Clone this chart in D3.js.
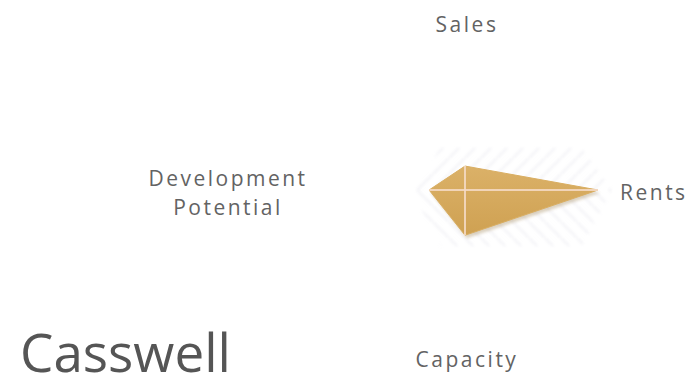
<!DOCTYPE html>
<html>
<head>
<meta charset="utf-8">
<script src="https://cdn.jsdelivr.net/npm/d3@7"></script>
<style>
  body { margin: 0; background: #fff; }
  svg { display: block; }
</style>
</head>
<body>
<div id="chart"></div>
<script>
// radar axes, clockwise from the top
const axes = ["Sales", "Rents", "Capacity", "Development Potential"];
const values = [0.9, 5.0, 1.7, 1.35];
const title = "Casswell";

const CONFIG = {
    width: 691,
    height: 387,
    cx: 465,
    cy: 190,
    radius: 133,
    max: 5,
    text_color: '#636363'
};

const svg = d3.select('#chart').append('svg')
    .attr('width', CONFIG.width)
    .attr('height', CONFIG.height);

const rScale = d3.scaleLinear().domain([0, CONFIG.max]).range([0, CONFIG.radius]);
const angle = d3.scaleLinear().domain([0, axes.length]).range([0, 2 * Math.PI]);

const defs = svg.append('defs');
const grad = defs.append('linearGradient')
    .attr('id', 'gold').attr('x1', 0).attr('y1', 0).attr('x2', 0).attr('y2', 1);
grad.append('stop').attr('offset', '0%').attr('stop-color', '#dbb168');
grad.append('stop').attr('offset', '100%').attr('stop-color', '#cfa152');

const blur = defs.append('filter').attr('id', 'soft')
    .attr('x', '-10%').attr('y', '-20%').attr('width', '120%').attr('height', '150%');
blur.append('feGaussianBlur').attr('stdDeviation', 1.4);

// hatched halo behind the shape
const pat = defs.append('pattern').attr('id', 'hatch')
    .attr('patternUnits', 'userSpaceOnUse').attr('width', 16).attr('height', 16);
pat.append('path').attr('d', 'M0,16 L16,0').attr('stroke', '#dedee8').attr('stroke-width', 1.5);
const pat2 = defs.append('pattern').attr('id', 'hatch2')
    .attr('patternUnits', 'userSpaceOnUse').attr('width', 16).attr('height', 16);
pat2.append('path').attr('d', 'M0,0 L16,16').attr('stroke', '#dedee8').attr('stroke-width', 1.5);

const g = svg.append('g').attr('transform', `translate(${CONFIG.cx},${CONFIG.cy})`);

const point = (v, i) => {
    const a = angle(i);
    return [rScale(v) * Math.sin(a), -rScale(v) * Math.cos(a)];
};

const pts = values.map((v, i) => point(v, i));
const left = pts[3][0] - 18, right = pts[1][0] + 14;
g.append('path')
    .attr('d', d3.line()([[left, 0], [left + 30, -42], [right - 30, -42], [right, 0]]) + 'Z')
    .attr('fill', 'url(#hatch)').attr('opacity', 0.55).attr('filter', 'url(#soft)');
g.append('path')
    .attr('d', d3.line()([[left, 0], [right, 0], [right - 30, 56], [left + 30, 56]]) + 'Z')
    .attr('fill', 'url(#hatch2)').attr('opacity', 0.55).attr('filter', 'url(#soft)');

// shadow
g.append('path')
    .attr('d', d3.line()(pts) + 'Z')
    .attr('transform', 'translate(2,3)')
    .attr('fill', '#8a6a30').attr('opacity', 0.3).attr('filter', 'url(#soft)');

g.append('path')
    .attr('d', d3.line()(pts) + 'Z')
    .attr('fill', 'url(#gold)')
    .attr('stroke', '#d9ae62').attr('stroke-width', 1);

// axis spokes across the shape
g.selectAll('.spoke')
    .data([[pts[0], pts[2]], [pts[3], pts[1]]])
    .enter().append('line')
    .attr('class', 'spoke')
    .attr('x1', (d) => d[0][0]).attr('y1', (d) => d[0][1])
    .attr('x2', (d) => d[1][0]).attr('y2', (d) => d[1][1])
    .attr('stroke', '#f6dcc8').attr('stroke-width', 2).attr('opacity', 0.85);

// axis labels
const labelPos = [
    { x: 2, y: -158, anchor: 'middle' },
    { x: 155, y: 10, anchor: 'start' },
    { x: 2, y: 177, anchor: 'middle' },
    { x: -237, y: -4, anchor: 'middle' }
];
axes.forEach((name, i) => {
    const p = labelPos[i];
    const words = name === 'Development Potential' ? ['Development', 'Potential'] : [name];
    const t = g.append('text')
        .attr('x', p.x).attr('y', p.y)
        .attr('text-anchor', p.anchor)
        .attr('font-family', 'Open Sans, sans-serif')
        .attr('font-size', 21)
        .attr('letter-spacing', 2.5)
        .attr('fill', CONFIG.text_color);
    words.forEach((w, j) => {
        t.append('tspan')
            .attr('x', p.x)
            .attr('dy', j === 0 ? 0 : 29)
            .text(w);
    });
});

svg.append('text')
    .attr('x', 20).attr('y', 372)
    .attr('font-family', 'Open Sans, sans-serif')
    .attr('font-size', 53)
    .attr('fill', '#555')
    .text(title);
</script>
</body>
</html>
